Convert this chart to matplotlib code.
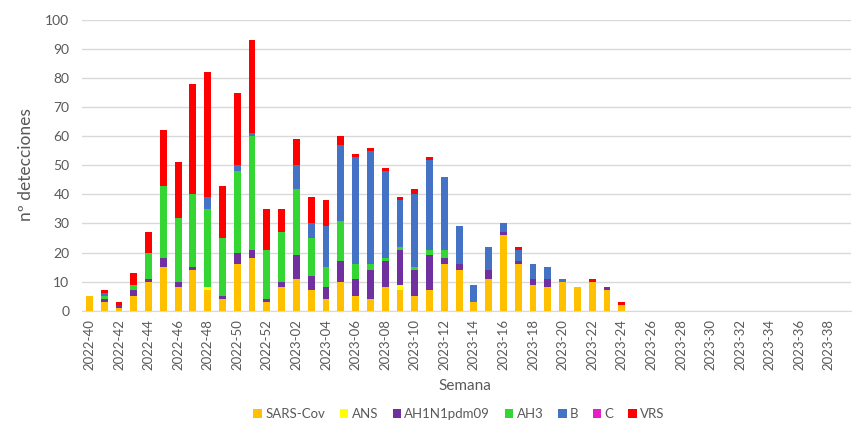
import numpy as np
import matplotlib; matplotlib.use("Agg")
import matplotlib.pyplot as plt

plt.rcParams["font.family"] = ["Lato", "DejaVu Sans"]

# weeks 2022-40 .. 2023-39
weeks = [f"2022-{w:02d}" for w in range(40, 53)] + [f"2023-{w:02d}" for w in range(1, 40)]
n_pad = len(weeks) - 37  # weeks with no detections at the end

sars = [5, 3, 1, 5, 10, 15, 8, 14, 7, 4, 16, 18, 3, 8, 11, 7, 4, 10, 5, 4, 8, 7, 5, 7, 16, 14,
        3, 11, 26, 16, 9, 8, 10, 8, 10, 7, 2] + [0] * n_pad
ans = [0, 0, 0, 0, 0, 0, 0, 0, 1, 0, 0, 0, 0, 0, 0, 0, 0, 0, 0, 0, 0, 2, 0, 0, 0, 0,
       0, 0, 0, 0, 0, 0, 0, 0, 0, 0, 0] + [0] * n_pad
ah1n1 = [0, 1, 1, 2, 1, 3, 2, 1, 0, 1, 4, 3, 1, 2, 8, 5, 4, 7, 6, 10, 9, 12, 9, 12, 2, 2,
         0, 3, 1, 1, 2, 3, 0, 0, 0, 1, 0] + [0] * n_pad
ah3 = [0, 1, 0, 2, 9, 25, 22, 25, 27, 20, 28, 39, 17, 17, 23, 13, 7, 14, 5, 2, 1, 1, 1, 2, 3, 0,
       0, 0, 0, 0, 0, 0, 0, 0, 0, 0, 0] + [0] * n_pad
b = [0, 1, 0, 0, 0, 0, 0, 0, 4, 0, 2, 1, 0, 0, 8, 5, 14, 26, 37, 39, 30, 16, 25, 31, 25, 13,
     6, 8, 3, 4, 5, 4, 1, 0, 0, 0, 0] + [0] * n_pad
c = [0] * len(weeks)
vrs = [0, 1, 1, 4, 7, 19, 19, 38, 43, 18, 25, 32, 14, 8, 9, 9, 9, 3, 1, 1, 1, 1, 2, 1, 0, 0,
       0, 0, 0, 1, 0, 0, 0, 0, 1, 0, 1] + [0] * n_pad

series = [
    ("SARS-Cov", sars, "#FFC000"),
    ("ANS", ans, "#FFFF00"),
    ("AH1N1pdm09", ah1n1, "#7030A0"),
    ("AH3", ah3, "#33D633"),
    ("B", b, "#4472C4"),
    ("C", c, "#E61EC8"),
    ("VRS", vrs, "#FF0000"),
]

grey = "#595959"
fig = plt.figure(figsize=(8.53, 4.23), dpi=100)
ax = fig.add_axes([0.0961, 0.2655, 0.9016, 0.6872])

x = np.arange(len(weeks))
bottom = np.zeros(len(weeks))
for name, vals, col in series:
    vals = np.array(vals, dtype=float)
    ax.bar(x, vals, 0.46, bottom=bottom, color=col, label=name, zorder=3)
    bottom += vals

ax.set_xlim(-0.5, len(weeks) - 0.5)
ax.set_ylim(0, 100)
ax.set_yticks(range(0, 101, 10))
ax.set_xticks(x[::2])
ax.set_xticklabels(weeks[::2], rotation=90)
ax.tick_params(axis="both", length=0, colors=grey, labelsize=10)
ax.tick_params(axis="y", pad=9)
ax.tick_params(axis="x", pad=6, labelsize=9.5)
ax.grid(axis="y", color="#D9D9D9", lw=1, zorder=0)
for s in ["top", "right", "left"]:
    ax.spines[s].set_visible(False)
ax.spines["bottom"].set_color("#D9D9D9")

fig.text(0.030, 0.610, "nº detecciones", rotation=90, ha="center", va="center",
         color=grey, fontsize=12.5)
fig.text(0.545, 0.087, "Semana", ha="center", va="center", color=grey, fontsize=11)

fig.legend(loc="center", bbox_to_anchor=(0.538, 0.021), ncol=7, frameon=False,
           fontsize=9.5, handlelength=0.65, handleheight=0.65, handletextpad=0.25,
           columnspacing=1.1, labelcolor=grey)

fig.savefig("out.png", dpi=100)
